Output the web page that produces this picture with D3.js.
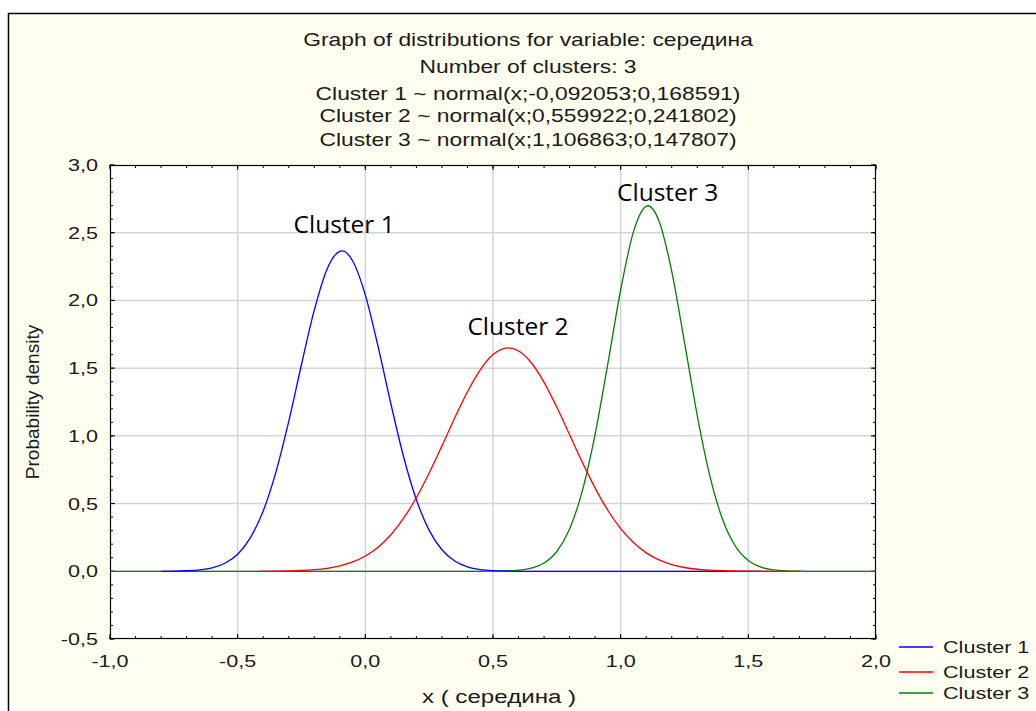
<!DOCTYPE html>
<html>
<head>
<meta charset="utf-8">
<script src="https://cdn.jsdelivr.net/npm/d3@7"></script>
<style>
  body { margin: 0; background: #ffffff; }
  text { font-family: "Liberation Sans", Arial, sans-serif; fill: #1a1a1a; }
</style>
</head>
<body>
<script>
// values
var titleLines = [
    "Graph of distributions for variable: середина",
    "Number of clusters: 3",
    "Cluster 1 ~ normal(x;-0,092053;0,168591)",
    "Cluster 2 ~ normal(x;0,559922;0,241802)",
    "Cluster 3 ~ normal(x;1,106863;0,147807)"
];
var seriesNames = ["Cluster 1", "Cluster 2", "Cluster 3"];
var xTicks = [-1.0, -0.5, 0.0, 0.5, 1.0, 1.5, 2.0];
var yTicks = [-0.5, 0.0, 0.5, 1.0, 1.5, 2.0, 2.5, 3.0];

var c1x = [-0.80, -0.75, -0.70, -0.65, -0.60, -0.55, -0.50, -0.45, -0.40, -0.35, -0.30, -0.25, -0.20, -0.15, -0.10, -0.09, -0.05, 0.00, 0.05, 0.10, 0.15, 0.20, 0.25, 0.30, 0.35, 0.40, 0.45, 0.50, 0.55, 0.60, 1.00, 1.55];
var c1y = [0.000, 0.001, 0.004, 0.010, 0.025, 0.059, 0.126, 0.249, 0.445, 0.734, 1.107, 1.527, 1.928, 2.231, 2.363, 2.366, 2.293, 2.039, 1.659, 1.237, 0.844, 0.528, 0.302, 0.159, 0.076, 0.033, 0.013, 0.005, 0.002, 0.000, 0.000, 0.000];

var c2x = [-0.42, -0.35, -0.30, -0.25, -0.20, -0.15, -0.10, -0.05, 0.00, 0.05, 0.10, 0.15, 0.20, 0.25, 0.30, 0.35, 0.40, 0.45, 0.50, 0.56, 0.60, 0.65, 0.70, 0.75, 0.80, 0.85, 0.90, 0.95, 1.00, 1.05, 1.10, 1.15, 1.20, 1.25, 1.30, 1.35, 1.40, 1.45, 1.50, 1.60, 1.70];
var c2y = [0.000, 0.001, 0.003, 0.006, 0.012, 0.022, 0.040, 0.069, 0.113, 0.178, 0.270, 0.392, 0.545, 0.726, 0.926, 1.132, 1.326, 1.488, 1.600, 1.650, 1.627, 1.540, 1.395, 1.211, 1.008, 0.804, 0.614, 0.449, 0.315, 0.212, 0.136, 0.084, 0.050, 0.028, 0.015, 0.008, 0.004, 0.002, 0.001, 0.000, 0.000];

var c3x = [-1.00, -0.50, 0.00, 0.45, 0.50, 0.55, 0.60, 0.65, 0.70, 0.75, 0.80, 0.85, 0.90, 0.95, 1.00, 1.05, 1.107, 1.15, 1.20, 1.25, 1.30, 1.35, 1.40, 1.45, 1.50, 1.55, 1.60, 1.65, 1.70, 1.75, 2.00];
var c3y = [0.000, 0.000, 0.000, 0.000, 0.001, 0.002, 0.008, 0.023, 0.061, 0.146, 0.312, 0.595, 1.013, 1.535, 2.078, 2.506, 2.699, 2.587, 2.215, 1.690, 1.150, 0.699, 0.378, 0.183, 0.079, 0.030, 0.010, 0.003, 0.001, 0.000, 0.000];

// label anchor points (data coords) for the names drawn above each peak
var peakLabelX = [-0.083, 0.598, 1.184];
var peakLabelY = [2.5, 1.745, 2.735];

var colors = ["#0000ff", "#ff0000", "#008000"];

var width = 1036, height = 711;
var sx = 1.27; // picture is stretched sideways

var svg = d3.select("body").append("svg")
    .attr("width", width)
    .attr("height", height);

// outer frame
svg.append("rect")
    .attr("x", 8.5).attr("y", 13.5)
    .attr("width", width).attr("height", height)
    .attr("fill", "#fffff0")
    .attr("stroke", "#000").attr("stroke-width", 1.5);

var plot = {left: 110, right: 876, top: 165, bottom: 639};

var x = d3.scaleLinear().domain([-1, 2]).range([plot.left, plot.right]);
var y = d3.scaleLinear().domain([-0.5, 3]).range([plot.bottom, plot.top]);

svg.append("rect")
    .attr("x", plot.left).attr("y", plot.top)
    .attr("width", plot.right - plot.left).attr("height", plot.bottom - plot.top)
    .attr("fill", "#fff");

// helper: text stretched sideways like the source
function stext(g, tx, ty, str, size, anchor){
    return g.append("text")
        .attr("transform", "translate(" + tx + "," + ty + ") scale(" + sx + ",1)")
        .attr("text-anchor", anchor)
        .style("font-size", size + "px")
        .text(str);
}

// grid
svg.append("g").selectAll("line").data(xTicks.slice(1, -1)).enter().append("line")
    .attr("x1", function(d){ return x(d); }).attr("x2", function(d){ return x(d); })
    .attr("y1", plot.top).attr("y2", plot.bottom)
    .attr("stroke", "#d4d4d4").attr("stroke-width", 1.5);
svg.append("g").selectAll("line").data(yTicks.slice(1, -1)).enter().append("line")
    .attr("y1", function(d){ return y(d); }).attr("y2", function(d){ return y(d); })
    .attr("x1", plot.left).attr("x2", plot.right)
    .attr("stroke", "#d4d4d4").attr("stroke-width", 1.5);

// axes with inward ticks
var fmt = function(d){ return d3.format(".1f")(d).replace(".", ",").replace("−", "-"); };
var xMinor = d3.range(-10, 21).map(function(i){ return i / 10; });
var yMinor = d3.range(-5, 31).map(function(i){ return i / 10; });

var axes = svg.append("g").attr("class", "axes");
function ticks(vals, scale, horiz, pos, len){
    axes.append("g").selectAll("line").data(vals).enter().append("line")
        .attr("x1", function(d){ return horiz ? scale(d) : pos; })
        .attr("x2", function(d){ return horiz ? scale(d) : pos + len; })
        .attr("y1", function(d){ return horiz ? pos : scale(d); })
        .attr("y2", function(d){ return horiz ? pos + len : scale(d); })
        .attr("stroke", "#000").attr("stroke-width", 1);
}
ticks(xMinor, x, true, plot.bottom, -3);
ticks(xTicks, x, true, plot.bottom, -5);
ticks(xMinor, x, true, plot.top, 3);
ticks(xTicks, x, true, plot.top, 5);
ticks(yMinor, y, false, plot.left, 3);
ticks(yTicks, y, false, plot.left, 5);
ticks(yMinor, y, false, plot.right, -3);
ticks(yTicks, y, false, plot.right, -5);

axes.append("rect")
    .attr("x", plot.left + 0.5).attr("y", plot.top + 0.5)
    .attr("width", plot.right - plot.left - 1).attr("height", plot.bottom - plot.top - 1)
    .attr("fill", "none").attr("stroke", "#000").attr("stroke-width", 1.2);

xTicks.forEach(function(d){ stext(svg, x(d), 667, fmt(d), 17, "middle"); });
yTicks.forEach(function(d){ stext(svg, 98, y(d) + 6, fmt(d), 17, "end"); });

stext(svg, 499, 703, "x ( середина )", 19, "middle");
svg.append("text")
    .attr("transform", "translate(39," + ((plot.top + plot.bottom) / 2) + ") rotate(-90) scale(1.27,1.27)")
    .attr("text-anchor", "middle")
    .style("font-size", "15px")
    .text("Probability density");

// title
var titleY = [46, 73, 100, 122, 146];
titleLines.forEach(function(t, i){ stext(svg, 528, titleY[i], t, 18, "middle"); });

// curves
var line = d3.line()
    .x(function(d){ return x(d[0]); })
    .y(function(d){ return y(d[1]); })
    .curve(d3.curveMonotoneX);

var series = [d3.zip(c1x, c1y), d3.zip(c2x, c2y), d3.zip(c3x, c3y)];
var drawOrder = [2, 0, 1];
drawOrder.forEach(function(i){
    svg.append("path")
        .datum(series[i])
        .attr("d", line)
        .attr("fill", "none")
        .attr("stroke", colors[i])
        .attr("stroke-width", 1.3);
});

// peak labels
seriesNames.forEach(function(n, i){
    svg.append("text")
        .attr("x", x(peakLabelX[i])).attr("y", y(peakLabelY[i]))
        .attr("text-anchor", "middle")
        .style("font-family", "'Open Sans', sans-serif")
        .style("font-size", "24.5px")
        .style("fill", "#000")
        .text(n);
});

// legend
var legY = [647, 672, 693];
seriesNames.forEach(function(n, i){
    svg.append("line")
        .attr("x1", 899).attr("x2", 933)
        .attr("y1", legY[i]).attr("y2", legY[i])
        .attr("stroke", colors[i]).attr("stroke-width", 1.3);
    stext(svg, 943, legY[i] + 6, n, 17, "start");
});
</script>
</body>
</html>
